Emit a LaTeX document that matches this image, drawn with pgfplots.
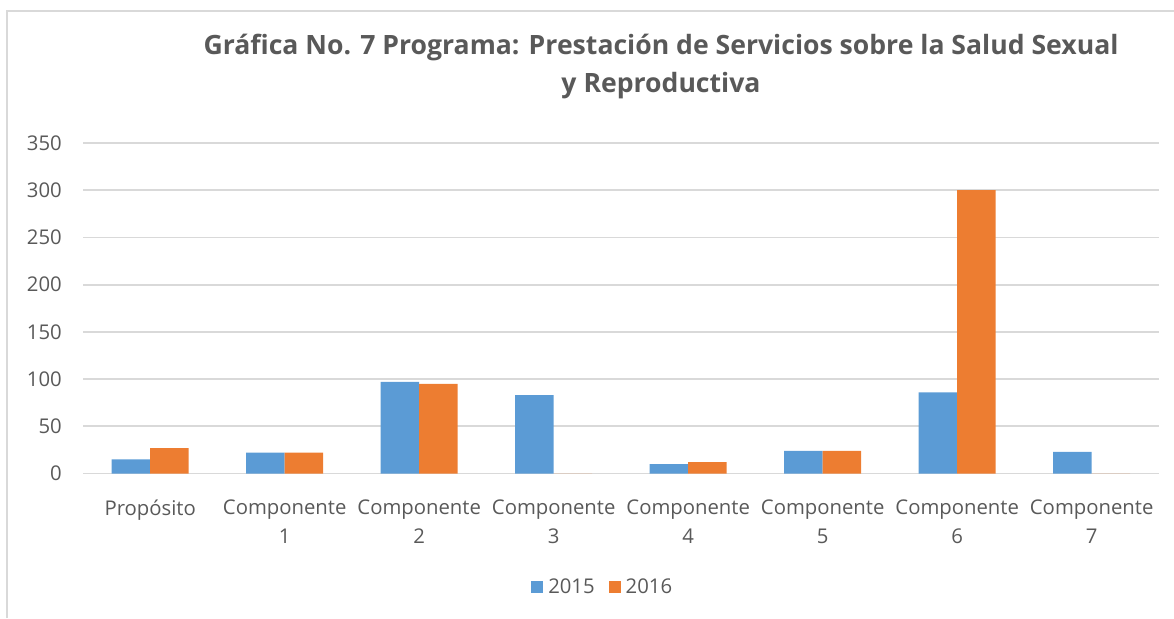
\documentclass[border=0pt]{standalone}
\usepackage{pgfplots}
\pgfplotsset{compat=1.18}
\usepackage{fontspec}
\setmainfont{Open Sans}
\definecolor{txt}{HTML}{595959}
\definecolor{grd}{HTML}{D9D9D9}
\definecolor{c15}{HTML}{5B9BD5}
\definecolor{c16}{HTML}{ED7D31}
\begin{document}
\begin{tikzpicture}[x=1pt,y=1pt]
\useasboundingbox (0,0) rectangle (1174,618);
\draw[grd, line width=2pt] (7,0) -- (7,607) -- (1174,607);
\node[txt, font=\fontsize{26.6}{30}\selectfont\bfseries] at (661,570) {Gráfica No. 7 Programa: Prestación de Servicios sobre la Salud Sexual};
\node[txt, font=\fontsize{26.6}{30}\selectfont\bfseries] at (661,532) {y Reproductiva};
\begin{axis}[at={(83pt,144.5pt)}, anchor=south west, scale only axis,
  width=1076pt, height=330.5pt,
  ymin=0, ymax=350, ytick={0,50,...,350},
  xmin=-0.5, xmax=7.5, xtick={0,...,7},
  xticklabels={Propósito,{Componente\\1},{Componente\\2},{Componente\\3},{Componente\\4},{Componente\\5},{Componente\\6},{Componente\\7}},
  ybar=0pt, bar width=38.5pt,
  ymajorgrids, grid style={grd, line width=1.8pt},
  axis line style={draw=none}, major tick length=0pt, tick style={draw=none},
  /pgf/number format/assume math mode=true,
  ticklabel style={text=txt, font=\fontsize{20.3}{29}\selectfont},
  xticklabel style={align=center, inner sep=0pt, yshift=-26pt},
  yticklabel style={inner sep=0pt, xshift=-21pt},
  legend columns=2,
  legend style={at={(0.483,-0.343)}, anchor=center, draw=none, fill=none,
    text=txt, font=\fontsize{20.3}{24}\selectfont,
    /tikz/every even column/.append style={column sep=12pt}},
  legend image code/.code={\fill[#1] (0pt,-6pt) rectangle (12pt,6pt); \path (15pt,0pt);},
]
\addplot[fill=c15, draw=none] coordinates {(0,15) (1,22) (2,97) (3,83) (4,10) (5,24) (6,86) (7,23)};
\addplot[fill=c16, draw=none] coordinates {(0,27) (1,22) (2,95) (3,0) (4,12) (5,24) (6,300) (7,0)};
\legend{2015,2016}
\end{axis}
\end{tikzpicture}
\end{document}
